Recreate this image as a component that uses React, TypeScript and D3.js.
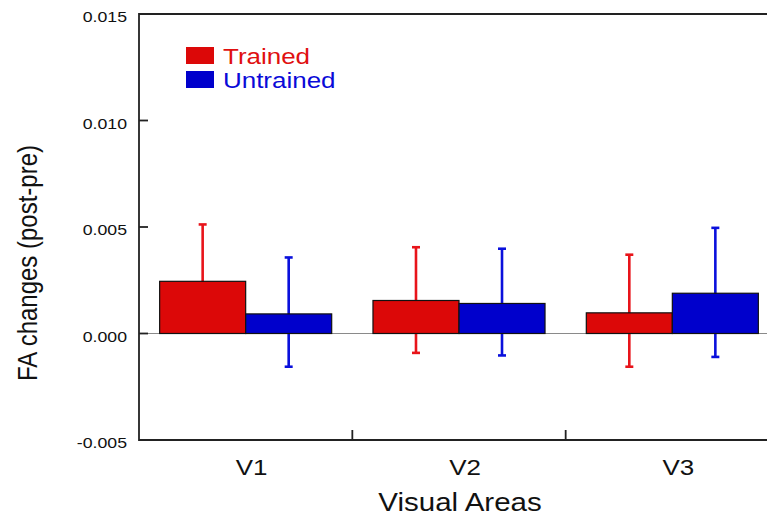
import React, { useEffect, useRef } from 'react';
import * as d3 from 'd3';

// values
const areas = ['V1', 'V2', 'V3'];
const groups = ['Trained', 'Untrained'];
const trained = [0.00245, 0.00155, 0.00097];
const untrained = [0.00092, 0.00141, 0.00189];
const trainedHigh = [0.00512, 0.00405, 0.0037];
const trainedLow = [0.0, -0.00091, -0.00156];
const untrainedHigh = [0.00357, 0.00398, 0.00496];
const untrainedLow = [-0.00156, -0.00103, -0.0011];
const yTicks = [-0.005, 0, 0.005, 0.01, 0.015];

const barColors = ['#dc0808', '#0000cc'];
const errColors = ['#e8141a', '#0a10dc'];
const textColors = ['#e01010', '#0a0ad8'];

const W = 767;
const H = 521;
const FONT = "'Liberation Sans', Arial, Helvetica, sans-serif";
const SX = 1.18; // the figure's text is stretched sideways a little

export default function App() {
  const ref = useRef<SVGSVGElement>(null);

  useEffect(() => {
    const svg = d3.select(ref.current);
    svg.selectAll('*').remove();

    const left = 139, top = 14, bottom = 440, right = 779;

    const y = d3.scaleLinear().domain([-0.005, 0.015]).range([bottom, top]);
    const x0 = d3.scaleBand().domain(areas).range([left, right]);
    const x1 = d3.scaleBand().domain(groups).range([0, x0.bandwidth()]).paddingOuter(0.24);

    const rows = areas.map((a, i) => ({
      area: a,
      items: [
        { g: 0, v: trained[i], lo: trainedLow[i], hi: trainedHigh[i] },
        { g: 1, v: untrained[i], lo: untrainedLow[i], hi: untrainedHigh[i] },
      ],
    }));

    // zero line
    svg.append('line')
      .attr('x1', left).attr('x2', W)
      .attr('y1', y(0)).attr('y2', y(0))
      .attr('stroke', '#8a8a8a').attr('stroke-width', 1.2);

    const grp = svg.selectAll('g.area').data(rows).enter().append('g')
      .attr('class', 'area')
      .attr('transform', d => `translate(${x0(d.area)},0)`);

    // error bars (behind the bars)
    const eb = grp.selectAll('g.err').data(d => d.items).enter().append('g')
      .attr('stroke', d => errColors[d.g]).attr('stroke-width', 2.6);
    const cx = (d: any) => (x1(groups[d.g]) as number) + x1.bandwidth() / 2;
    eb.append('line')
      .attr('x1', cx).attr('x2', cx)
      .attr('y1', d => y(d.hi)).attr('y2', d => y(d.lo));
    eb.append('line')
      .attr('x1', d => cx(d) - 4).attr('x2', d => cx(d) + 4)
      .attr('y1', d => y(d.hi)).attr('y2', d => y(d.hi));
    eb.filter(d => d.lo < 0).append('line')
      .attr('x1', d => cx(d) - 4).attr('x2', d => cx(d) + 4)
      .attr('y1', d => y(d.lo)).attr('y2', d => y(d.lo));

    // bars
    grp.selectAll('rect').data(d => d.items).enter().append('rect')
      .attr('x', d => x1(groups[d.g]) as number)
      .attr('width', x1.bandwidth())
      .attr('y', d => y(Math.max(0, d.v)))
      .attr('height', d => Math.abs(y(d.v) - y(0)))
      .attr('fill', d => barColors[d.g])
      .attr('stroke', '#111').attr('stroke-width', 1.2);

    // frame
    const ax = svg.append('g').attr('stroke', '#222').attr('stroke-width', 1.8).attr('fill', 'none');
    ax.append('path').attr('d', `M${W},${top}H${left}V${bottom}H${W}`);

    // y ticks (inward) and labels
    ax.selectAll('line.yt').data(yTicks.slice(1, -1)).enter().append('line')
      .attr('x1', left).attr('x2', left + 9)
      .attr('y1', d => y(d)).attr('y2', d => y(d));
    svg.selectAll('text.yl').data(yTicks).enter().append('text')
      .attr('transform', d => `translate(127,${y(d) + 8}) scale(${SX},1)`)
      .attr('text-anchor', 'end')
      .style('font-family', FONT).style('font-size', '15px').attr('fill', '#111')
      .text(d => d3.format('.3f')(d).replace('\u2212', '-'));

    // category dividers on the x axis
    ax.selectAll('line.xt').data(areas.slice(1)).enter().append('line')
      .attr('x1', d => x0(d) as number).attr('x2', d => x0(d) as number)
      .attr('y1', bottom).attr('y2', bottom - 10);

    svg.selectAll('text.xl').data(areas).enter().append('text')
      .attr('transform', d => `translate(${(x0(d) as number) + x0.bandwidth() / 2 + 6},475) scale(${SX},1)`)
      .attr('text-anchor', 'middle')
      .style('font-family', FONT).style('font-size', '22px').attr('fill', '#111')
      .text(d => d);

    // axis titles
    svg.append('text')
      .attr('transform', `translate(460,511) scale(${SX},1)`)
      .attr('text-anchor', 'middle')
      .style('font-family', FONT).style('font-size', '25px').attr('fill', '#111')
      .text('Visual Areas');
    svg.append('text')
      .attr('transform', `translate(37,263) scale(${SX},1) rotate(-90)`)
      .attr('text-anchor', 'middle')
      .style('font-family', FONT).style('font-size', '24px').attr('fill', '#111')
      .text('FA changes (post-pre)');

    // legend
    const lg = svg.selectAll('g.leg').data(groups).enter().append('g')
      .attr('transform', (d, i) => `translate(186,${47 + i * 24})`);
    lg.append('rect')
      .attr('width', 28).attr('height', 17)
      .attr('fill', (d, i) => barColors[i]);
    lg.append('text')
      .attr('transform', `translate(37,17) scale(${SX},1)`)
      .style('font-family', FONT).style('font-size', '22px')
      .attr('fill', (d, i) => textColors[i])
      .text(d => d);
  }, []);

  return (
    <svg ref={ref} width={W} height={H}
      style={{ position: 'absolute', left: 0, top: 0, background: '#fff' }} />
  );
}
